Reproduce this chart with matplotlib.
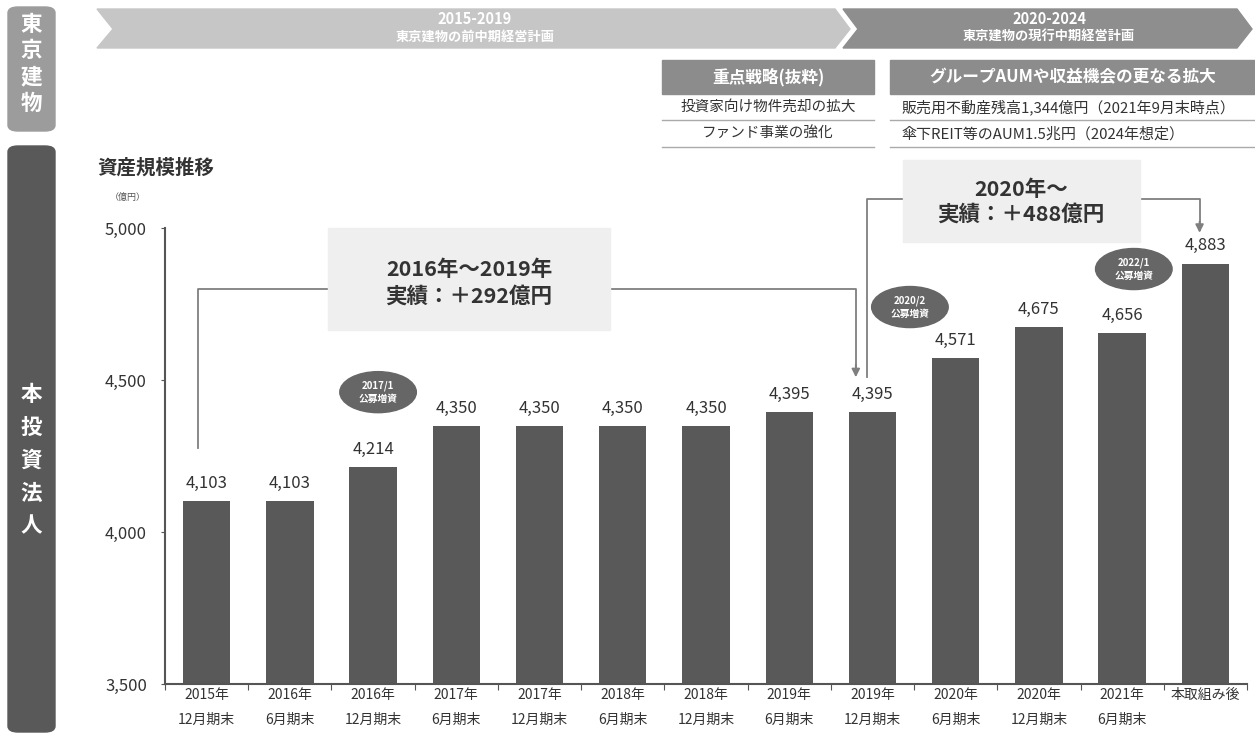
import matplotlib
matplotlib.use("Agg")
import matplotlib.pyplot as plt
from matplotlib.patches import Polygon, FancyBboxPatch, Ellipse, Rectangle
from matplotlib.ticker import FuncFormatter, FixedLocator

plt.rcParams['font.family'] = ['Noto Sans CJK JP', 'DejaVu Sans']

# ---- data ----
categories = ["2015年\n12月期末", "2016年\n6月期末", "2016年\n12月期末", "2017年\n6月期末",
              "2017年\n12月期末", "2018年\n6月期末", "2018年\n12月期末", "2019年\n6月期末",
              "2019年\n12月期末", "2020年\n6月期末", "2020年\n12月期末", "2021年\n6月期末",
              "本取組み後"]
values = [4103, 4103, 4214, 4350, 4350, 4350, 4350, 4395, 4395, 4571, 4675, 4656, 4883]
y_ticks = [3500, 4000, 4500, 5000]
offering_labels = ["2017/1\n公募増資", "2020/2\n公募増資", "2022/1\n公募増資"]
offering_pos = [(2.06, 4460), (8.45, 4740), (11.14, 4865)]

W, H = 1255, 737
fig = plt.figure(figsize=(W / 100, H / 100), dpi=100)


def fx(x):
    return x / W


def fy(y):
    return 1 - y / H


def px(x, y):
    return (fx(x), fy(y))


BAR = "#595959"
TXT = "#333333"

ax = fig.add_axes([fx(165), fy(684), fx(1247) - fx(165), fy(228) - fy(684)])
xs = list(range(len(values)))
ax.bar(xs, values, width=0.57, color=BAR, zorder=2)
ax.set_ylim(3500, 5000)
ax.set_xlim(-0.5, len(values) - 0.5)
for s in ["top", "right"]:
    ax.spines[s].set_visible(False)
for s in ["left", "bottom"]:
    ax.spines[s].set_color("#555555")
    ax.spines[s].set_linewidth(1.5)
ax.set_yticks(y_ticks)
ax.yaxis.set_major_formatter(FuncFormatter(lambda v, p: f"{int(v):,}"))
ax.tick_params(axis="y", labelsize=12, labelcolor=TXT, length=3, color="#555555", pad=10)
ax.xaxis.set_major_locator(FixedLocator([i - 0.5 for i in range(len(values) + 1)]))
ax.xaxis.set_major_formatter(FuncFormatter(lambda v, p: ""))
ax.xaxis.set_minor_locator(FixedLocator(xs))
ax.set_xticklabels(categories, minor=True)
ax.tick_params(axis="x", which="major", length=4, color="#555555", direction="out")
ax.tick_params(axis="x", which="minor", length=0, labelsize=10, labelcolor=TXT, pad=3)
for t in ax.get_xticklabels(minor=True):
    t.set_linespacing(2.0)

for x, v in zip(xs, values):
    ax.text(x, v + 30, f"{v:,}", ha="center", va="bottom", fontsize=12, color=TXT)

# offering bubbles
for (bx, by), lab in zip(offering_pos, offering_labels):
    e = Ellipse((bx, by), 0.92, 135, color="#666666", zorder=3, clip_on=False)
    ax.add_patch(e)
    ax.text(bx, by, lab, ha="center", va="center", fontsize=7, color="white",
            fontweight="bold", linespacing=1.4, zorder=4)

# bracket 1 (2016-2019)
lc = "#7f7f7f"
ax.plot([-0.1, -0.1, 7.8, 7.8], [4275, 4800, 4800, 4520], color=lc, lw=1.3, clip_on=False, zorder=1)
ax.annotate("", xy=(7.8, 4500), xytext=(7.8, 4560),
            arrowprops=dict(arrowstyle="-|>", color=lc, lw=1.3, mutation_scale=12), annotation_clip=False)
# bracket 2 (2020-)
ax.plot([7.93, 7.93, 11.93, 11.93], [4510, 5095, 5095, 4995], color=lc, lw=1.3, clip_on=False, zorder=1)
ax.annotate("", xy=(11.93, 4975), xytext=(11.93, 5030),
            arrowprops=dict(arrowstyle="-|>", color=lc, lw=1.3, mutation_scale=12), annotation_clip=False)

# callout boxes (figure coords)
fig.patches.append(Rectangle(px(328, 330), fx(610) - fx(328), fy(228) - fy(330),
                             transform=fig.transFigure, color="#efefef", zorder=5))
fig.text(fx(469), fy(270), "2016年～2019年", ha="center", va="center", fontsize=15.5,
         fontweight="bold", color=TXT, zorder=6)
fig.text(fx(469), fy(296), "実績：＋292億円", ha="center", va="center", fontsize=15.5,
         fontweight="bold", color=TXT, zorder=6)
fig.patches.append(Rectangle(px(903, 242), fx(1140) - fx(903), fy(160) - fy(242),
                             transform=fig.transFigure, color="#efefef", zorder=5))
fig.text(fx(1021), fy(189), "2020年～", ha="center", va="center", fontsize=15.5,
         fontweight="bold", color=TXT, zorder=6)
fig.text(fx(1021), fy(214), "実績：＋488億円", ha="center", va="center", fontsize=15.5,
         fontweight="bold", color=TXT, zorder=6)

# title
fig.text(fx(97), fy(168), "資産規模推移", ha="left", va="center", fontsize=14,
         fontweight="bold", color=TXT)
fig.text(fx(110), fy(197), "（億円）", ha="left", va="center", fontsize=6.5, color="#555555")

# left side boxes
for (y0, y1, col, label, ls, yc) in [(7, 131, "#9c9c9c", "東\n京\n建\n物", 1.33, 64),
                                      (146, 732, "#595959", "本\n投\n資\n法\n人", 1.7, 460)]:
    fig.patches.append(FancyBboxPatch(px(8, y1), fx(55) - fx(8), fy(y0) - fy(y1),
                                      boxstyle="round,pad=0,rounding_size=0.008",
                                      transform=fig.transFigure, color=col, zorder=1))
    fig.text(fx(31.5), fy(yc), label, ha="center", va="center", fontsize=15.5,
             fontweight="bold", color="white", linespacing=ls)

# chevrons
chev1 = [(97, 9), (835, 9), (850, 29), (835, 48), (97, 48), (113, 29)]
chev2 = [(843, 9), (1237, 9), (1252, 29), (1237, 48), (843, 48), (858, 29)]
for pts, col in [(chev1, "#c6c6c6"), (chev2, "#8e8e8e")]:
    fig.patches.append(Polygon([px(a, b) for a, b in pts], closed=True,
                               transform=fig.transFigure, color=col, zorder=1))
fig.text(fx(475), fy(19), "2015-2019", ha="center", va="center", fontsize=10.5,
         fontweight="bold", color="white")
fig.text(fx(475), fy(37), "東京建物の前中期経営計画", ha="center", va="center", fontsize=9.5,
         fontweight="bold", color="white")
fig.text(fx(1049), fy(19), "2020-2024", ha="center", va="center", fontsize=10.5,
         fontweight="bold", color="white")
fig.text(fx(1049), fy(37), "東京建物の現行中期経営計画", ha="center", va="center", fontsize=9.5,
         fontweight="bold", color="white")

# tables
for (x0, x1, head, rows, align) in [
        (662, 874, "重点戦略(抜粋)", ["投資家向け物件売却の拡大", "ファンド事業の強化"], "center"),
        (890, 1255, "グループAUMや収益機会の更なる拡大",
         ["販売用不動産残高1,344億円（2021年9月末時点）", "傘下REIT等のAUM1.5兆円（2024年想定）"], "left")]:
    fig.patches.append(Rectangle(px(x0, 94), fx(x1) - fx(x0), fy(60) - fy(94),
                                 transform=fig.transFigure, color="#8c8c8c", zorder=1))
    fig.text(fx((x0 + x1) / 2), fy(77), head, ha="center", va="center", fontsize=12,
             fontweight="bold", color="white")
    for k, r in enumerate(rows):
        yc = 107 + k * 27
        if align == "center":
            fig.text(fx((x0 + x1) / 2), fy(yc), r, ha="center", va="center", fontsize=10.5, color=TXT)
        else:
            fig.text(fx(x0 + 12), fy(yc), r, ha="left", va="center", fontsize=10.8, color=TXT)
        fig.lines.append(plt.Line2D([fx(x0), fx(x1)], [fy(yc + 13), fy(yc + 13)],
                                    transform=fig.transFigure, color="#aaaaaa", lw=1))

fig.savefig("out.png", dpi=100)
